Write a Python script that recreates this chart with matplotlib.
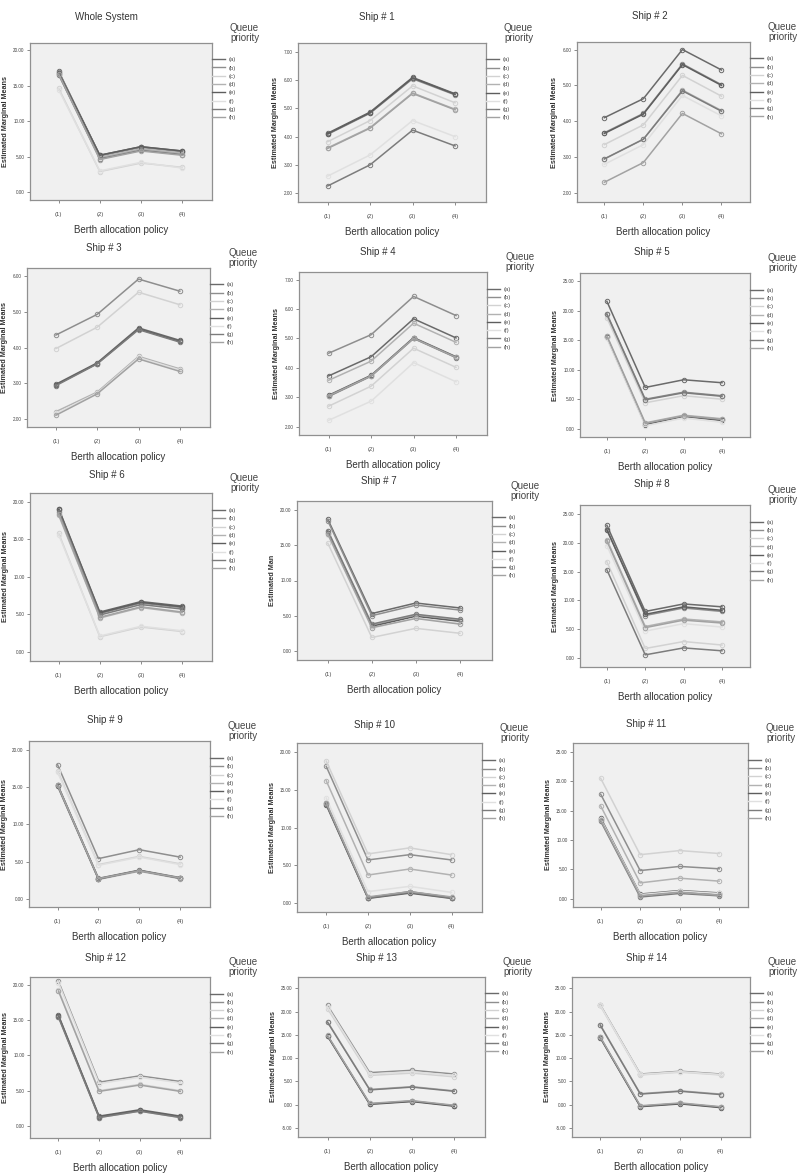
import matplotlib
matplotlib.use("Agg")
import matplotlib.pyplot as plt
from matplotlib.lines import Line2D

plt.rcParams['font.family'] = ['Liberation Sans', 'DejaVu Sans']

# ---------------- data ----------------
policies = ['(1)', '(2)', '(3)', '(4)']
priorities = ['(a)', '(b)', '(c)', '(d)', '(e)', '(f)', '(g)', '(h)']
titles = ['Whole System', 'Ship # 1', 'Ship # 2', 'Ship # 3', 'Ship # 4', 'Ship # 5',
          'Ship # 6', 'Ship # 7', 'Ship # 8', 'Ship # 9', 'Ship # 10', 'Ship # 11',
          'Ship # 12', 'Ship # 13', 'Ship # 14']
ylabels = ['Estimated Marginal Means'] * 7 + ['Estimated Man'] + ['Estimated Marginal Means'] * 7

# estimated marginal means, one row per queue priority (a)..(h), columns = policies (1)..(4)
whole_system = [[17.0, 5.2, 6.4, 5.8], [16.9, 5.1, 6.3, 5.7], [14.6, 2.9, 4.1, 3.5], [16.7, 4.9, 6.1, 5.5],
                [16.8, 5.2, 6.4, 5.8], [14.4, 3.0, 4.2, 3.4], [16.5, 4.7, 5.9, 5.3], [16.6, 4.6, 5.8, 5.2]]
ship1 = [[4.12, 4.87, 6.10, 5.52], [4.08, 4.83, 6.05, 5.48], [3.82, 4.57, 5.80, 5.20], [3.60, 4.32, 5.55, 4.97],
         [4.10, 4.85, 6.08, 5.50], [2.60, 3.35, 4.57, 4.00], [2.25, 3.00, 4.23, 3.67], [3.58, 4.30, 5.53, 4.95]]
ship2 = [[4.10, 4.63, 6.00, 5.43], [3.68, 4.22, 5.60, 5.02], [3.35, 3.90, 5.28, 4.70], [2.95, 3.50, 4.87, 4.30],
         [3.66, 4.20, 5.58, 5.00], [2.80, 3.35, 4.72, 4.15], [2.95, 3.50, 4.85, 4.28], [2.30, 2.85, 4.22, 3.65]]
ship3 = [[2.97, 3.57, 4.55, 4.20], [4.35, 4.93, 5.92, 5.58], [3.97, 4.57, 5.55, 5.20], [2.20, 2.75, 3.75, 3.40],
         [2.95, 3.55, 4.52, 4.17], [2.15, 2.72, 3.72, 3.37], [2.93, 3.54, 4.50, 4.15], [2.10, 2.70, 3.68, 3.33]]
ship4 = [[3.73, 4.38, 5.67, 5.02], [4.50, 5.13, 6.43, 5.78], [2.70, 3.38, 4.67, 4.02], [3.58, 4.23, 5.52, 4.87],
         [3.07, 3.75, 5.03, 4.38], [2.22, 2.87, 4.18, 3.53], [3.03, 3.72, 5.00, 4.35], [3.05, 3.73, 5.01, 4.36]]
ship5 = [[21.6, 7.0, 8.3, 7.8], [19.5, 5.0, 6.2, 5.6], [18.8, 4.4, 5.6, 5.0], [15.8, 1.0, 2.3, 1.7],
         [15.5, 0.7, 2.1, 1.4], [15.3, 0.5, 1.8, 1.1], [19.4, 4.9, 6.1, 5.5], [15.7, 0.9, 2.2, 1.6]]
ship6 = [[19.1, 5.3, 6.7, 6.1], [18.9, 5.1, 6.5, 5.9], [15.8, 2.0, 3.3, 2.7], [18.2, 4.5, 5.9, 5.2],
         [19.0, 5.2, 6.6, 6.0], [15.6, 2.1, 3.4, 2.8], [18.7, 4.9, 6.3, 5.7], [18.4, 4.6, 6.0, 5.3]]
ship7 = [[18.7, 5.3, 6.8, 6.1], [18.5, 5.0, 6.5, 5.8], [15.3, 1.9, 3.2, 2.5], [17.0, 3.7, 5.1, 4.4],
         [16.8, 3.5, 4.9, 4.2], [16.5, 3.2, 4.7, 3.9], [17.1, 3.8, 5.2, 4.5], [16.6, 3.3, 4.6, 3.8]]
ship8 = [[23.0, 8.1, 9.4, 8.9], [22.3, 7.4, 8.7, 8.1], [16.7, 1.7, 2.9, 2.3], [20.5, 5.5, 6.8, 6.3],
         [22.2, 7.6, 8.9, 8.3], [19.5, 4.7, 6.0, 5.4], [15.3, 0.6, 1.8, 1.3], [20.3, 5.3, 6.6, 6.1]]
ship9 = [[15.3, 2.7, 3.8, 2.8], [18.0, 5.4, 6.6, 5.6], [17.2, 4.6, 5.7, 4.7], [15.1, 2.6, 3.7, 2.7],
         [15.2, 2.65, 3.8, 2.75], [17.0, 4.5, 5.6, 4.6], [15.35, 2.75, 3.85, 2.85], [15.25, 2.7, 3.75, 2.8]]
ship10 = [[13.2, 0.7, 1.5, 0.7], [18.1, 5.7, 6.4, 5.7], [18.8, 6.5, 7.3, 6.4], [16.2, 3.7, 4.5, 3.7],
          [13.0, 0.6, 1.3, 0.6], [13.9, 1.5, 2.2, 1.4], [13.1, 0.65, 1.4, 0.65], [13.3, 0.8, 1.5, 0.8]]
ship11 = [[13.8, 0.8, 1.4, 1.0], [17.8, 4.8, 5.5, 5.1], [20.5, 7.5, 8.2, 7.7], [15.8, 2.7, 3.5, 3.0],
          [13.5, 0.6, 1.2, 0.8], [13.6, 0.7, 1.3, 0.9], [13.2, 0.3, 0.9, 0.5], [13.4, 0.5, 1.1, 0.6]]
ship12 = [[15.7, 1.4, 2.3, 1.4], [20.5, 6.2, 7.1, 6.3], [19.3, 5.0, 5.9, 5.0], [15.5, 1.2, 2.1, 1.2],
          [15.6, 1.3, 2.2, 1.3], [20.3, 6.0, 6.9, 6.1], [15.4, 1.2, 2.1, 1.2], [19.1, 4.9, 5.8, 4.9]]
ship13 = [[14.8, 0.2, 0.8, -0.2], [21.3, 6.9, 7.4, 6.6], [20.6, 6.3, 6.8, 6.0], [17.8, 3.3, 3.9, 3.0],
          [14.7, 0.1, 0.7, -0.3], [21.0, 6.6, 7.1, 6.3], [17.7, 3.2, 3.8, 2.9], [14.9, 0.3, 0.9, -0.1]]
ship14 = [[14.5, -0.3, 0.3, -0.5], [21.5, 6.6, 7.2, 6.6], [21.3, 6.4, 7.0, 6.4], [17.2, 2.4, 3.0, 2.3],
          [14.4, -0.4, 0.2, -0.6], [21.4, 6.5, 7.1, 6.5], [17.1, 2.3, 2.9, 2.2], [14.6, -0.2, 0.4, -0.4]]

panels = [whole_system, ship1, ship2, ship3, ship4, ship5, ship6, ship7, ship8,
          ship9, ship10, ship11, ship12, ship13, ship14]

yticks_0_20 = [0, 5, 10, 15, 20]
yticks_0_25 = [0, 5, 10, 15, 20, 25]
yticks_2_7 = [2, 3, 4, 5, 6, 7]
yticks_2_6 = [2, 3, 4, 5, 6]
yticks_m5_25 = [-5, 0, 5, 10, 15, 20, 25]
panel_yticks = [yticks_0_20, yticks_2_7, yticks_2_6, yticks_2_6, yticks_2_7, yticks_0_25,
                yticks_0_20, yticks_0_20, yticks_0_25, yticks_0_20, yticks_0_20, yticks_0_25,
                yticks_0_20, yticks_m5_25, yticks_m5_25]

# ---------------- layout / style ----------------
W, H = 799, 1175
# axes boxes in pixels: left, top, right, bottom
boxes = [(30, 43, 212, 200), (298, 43, 486, 202), (577, 42, 750, 202),
         (27, 268, 210, 427), (299, 272, 487, 435), (580, 273, 750, 437),
         (30, 493, 212, 661), (297, 501, 492, 660), (580, 505, 750, 667),
         (29, 741, 210, 907), (297, 743, 482, 912), (573, 743, 748, 907),
         (30, 977, 210, 1138), (298, 977, 485, 1137), (572, 977, 750, 1137)]
title_gap = [26, 26, 26, 20, 20, 21, 18, 20, 21, 21, 18, 19, 19, 19, 19]
ylims = [(-1.1, 21.0), (1.68, 7.32), (1.75, 6.21), (1.77, 6.23), (1.72, 7.26), (-1.4, 26.4),
         (-1.24, 21.2), (-1.3, 21.3), (-1.5, 26.5), (-1.1, 21.2), (-1.2, 21.2), (-1.4, 26.5),
         (-1.7, 21.1), (-6.9, 27.4), (-6.9, 27.4)]
colors = ['#6a6a6a', '#8e8e8e', '#d2d2d2', '#b2b2b2', '#5e5e5e', '#e0e0e0', '#7c7c7c', '#a2a2a2']

fig = plt.figure(figsize=(W / 100, H / 100), dpi=100)
fig.patch.set_facecolor('white')

xpos = list(range(len(policies)))
for i, data in enumerate(panels):
    l, t, r, b = boxes[i]
    ax = fig.add_axes([l / W, 1 - b / H, (r - l) / W, (b - t) / H])
    ax.set_facecolor('#f0f0f0')
    for sp in ax.spines.values():
        sp.set_color('#909090')
        sp.set_linewidth(0.9)
    for k, series in enumerate(data):
        ax.plot(xpos, series, color=colors[k], lw=1.1, marker='o', ms=3.2,
                mfc='none', mec=colors[k], mew=0.7, zorder=3)
    ax.set_xlim(-0.7, 3.73)
    ax.set_ylim(*ylims[i])
    ax.set_xticks(xpos)
    ax.set_xticklabels(policies, fontsize=4.2, color='#444444')
    ax.set_yticks(panel_yticks[i])
    ax.set_yticklabels(['%.2f' % v for v in panel_yticks[i]], fontsize=3.3, color='#444444')
    ax.tick_params(axis='both', length=2.5, width=0.6, color='#777777', pad=6)
    ax.tick_params(axis='y', pad=1.5)
    ax.set_ylabel(ylabels[i], fontsize=5.2, fontweight='bold', labelpad=3, color='#333333')
    ax.set_xlabel('Berth allocation policy', fontsize=7, labelpad=6, color='#333333')
    ax.text(0.42, 1.0 + title_gap[i] / (b - t), titles[i], transform=ax.transAxes,
            ha='center', va='center', fontsize=7, color='#333333')
    ax.text(1.0 + 18 / (r - l), 1.0 + 10 / (b - t), 'Queue\npriority', transform=ax.transAxes,
            ha='left', va='center', fontsize=7, color='#444444', linespacing=1.1)
    handles = [Line2D([], [], color=colors[k], lw=1.0) for k in range(len(priorities))]
    ax.legend(handles, priorities, loc='upper left', bbox_to_anchor=(1.0, 0.91),
              frameon=False, fontsize=4.2, handlelength=2.2, handletextpad=0.6,
              labelspacing=0.55, borderaxespad=0, borderpad=0, labelcolor='#444444')

fig.savefig('out.png', dpi=100, facecolor='white')
